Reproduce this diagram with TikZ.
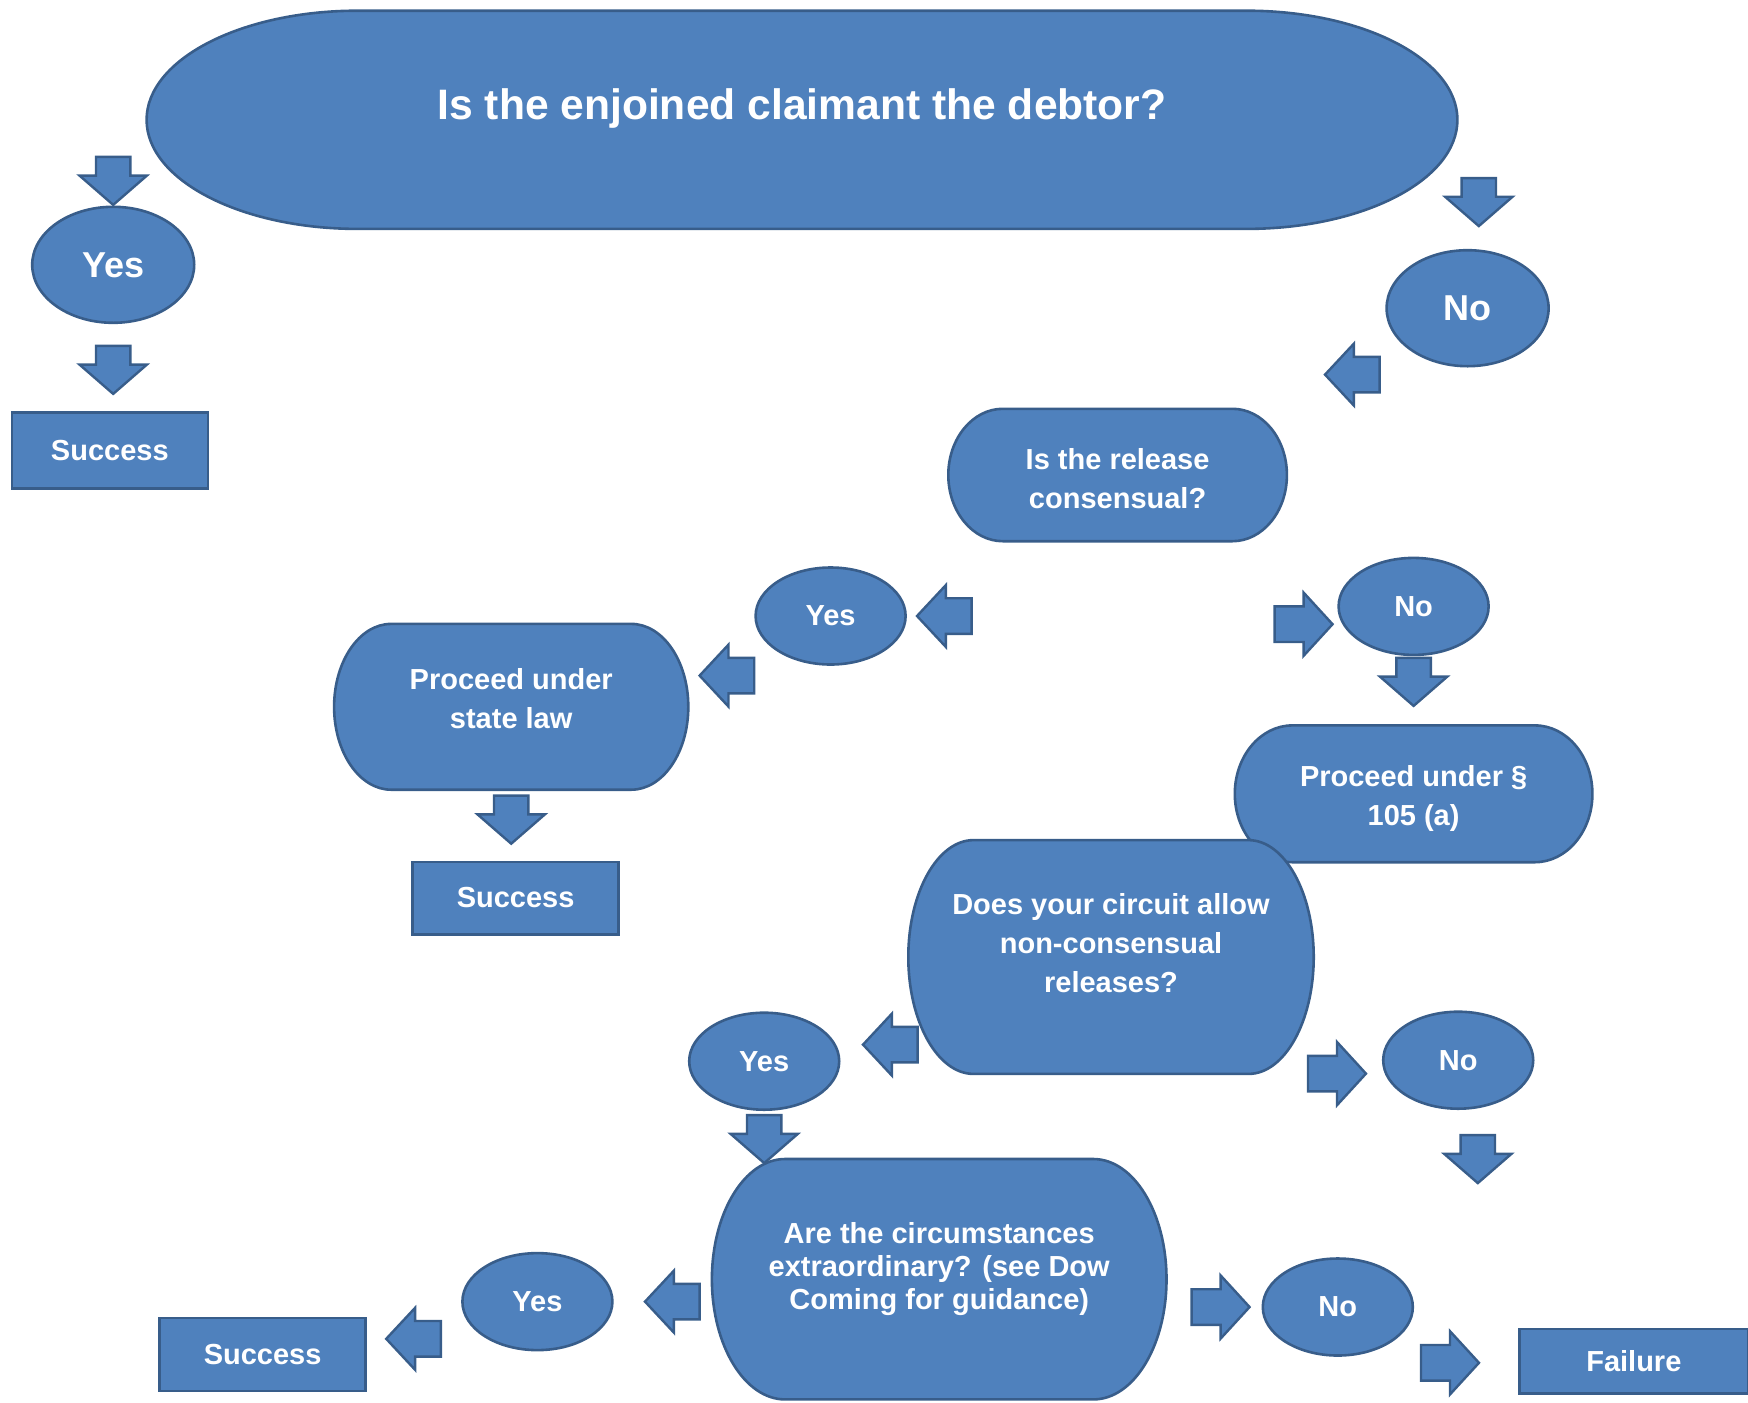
\documentclass[tikz,border=0pt]{standalone}
\usepackage{fontspec}
\setmainfont{Liberation Sans}
\usetikzlibrary{positioning, shapes.geometric, shapes.arrows, calc, backgrounds}

\definecolor{boxblue}{RGB}{79,129,189}
\definecolor{edgeblue}{RGB}{56,93,138}

% terminator outline round a node; #2 = how far it sits below the text
\newcommand\termshape[2]{%
  \path[draw=edgeblue, fill=boxblue, line width=1.3pt]
    let \p1=(#1.south west), \p2=(#1.north east),
        \n1={0.161*(\x2-\x1)}, \n2={0.5*(\y2-\y1)} in
    (\x1+\n1,\y1-#2) -- (\x2-\n1,\y1-#2)
    arc[start angle=-90, end angle=90, x radius={(\n1)*1pt}, y radius={(\n2)*1pt}]
    -- (\x1+\n1,\y2-#2)
    arc[start angle=90, end angle=270, x radius={(\n1)*1pt}, y radius={(\n2)*1pt}]
    -- cycle;}

\begin{document}
\begin{tikzpicture}[on grid, every node/.style={align=center, text=white, font=\fontsize{14.5}{19.5}\selectfont\bfseries},
    term/.style={inner sep=0pt},
    answer/.style={ellipse, draw=edgeblue, fill=boxblue, line width=1.3pt, inner sep=0pt, minimum width=75pt, minimum height=48.5pt},
    bigans/.style={minimum width=81pt, minimum height=58pt, font=\fontsize{18}{22}\selectfont\bfseries},
    outcome/.style={rectangle, draw=edgeblue, fill=boxblue, line width=1.3pt, minimum width=103pt, minimum height=36.5pt},
    fat/.style={single arrow, draw=edgeblue, fill=boxblue, line width=1.2pt, single arrow head indent=0pt, inner xsep=0pt},
    fatdown/.style={fat, rotate=270, inner ysep=8pt, single arrow head extend=8.25pt, single arrow tip angle=98, minimum height=24pt},
    fatleft/.style={fat, rotate=180, inner ysep=8.3pt, single arrow head extend=6.6pt, single arrow tip angle=94, minimum height=27.3pt},
    fatright/.style={fat, inner ysep=8.3pt, single arrow head extend=6.9pt, single arrow tip angle=95, minimum height=29pt}]
  \useasboundingbox (0,0) rectangle (874pt,-701.2pt);

  % Nodes
  \node (debtor) [term, minimum width=655pt, minimum height=108.7pt, font=\fontsize{21.3}{25}\selectfont\bfseries] at (401pt,-54pt) {Is the enjoined claimant the debtor?};
  \node (yes1) [answer, bigans, below left=78.4pt and 344.4pt of debtor] {Yes};
  \node (d1) [fatdown, above=45.7pt of yes1] {};
  \node (d2) [fatdown, below=48.8pt of yes1] {};
  \node (win1) [outcome, minimum width=98pt, minimum height=38pt, below left=44pt and 1.7pt of d2] {Success};

  \node (no1) [answer, bigans, below right=100.1pt and 332.8pt of debtor] {No};
  \node (d3) [fatdown, above right=56.8pt and 5.6pt of no1] {};
  \node (l1) [fatleft, below left=33.2pt and 53.5pt of no1] {};
  \node (consent) [term, minimum width=168.9pt, minimum height=65.8pt, below left=85.1pt and 175pt of no1] {Is the release\\consensual?};

  \node (yes2) [answer, below left=68.8pt and 143.5pt of consent] {Yes};
  \node (l2) [fatleft, right=61pt of yes2] {};
  \node (statelaw) [term, minimum width=176.7pt, minimum height=82.5pt, below left=41.5pt and 159.7pt of yes2] {Proceed under\\state law};
  \node (l3) [fatleft, above right=11.7pt and 112pt of statelaw] {};
  \node (d5) [fatdown, below=56.6pt of statelaw] {};
  \node (win2) [outcome, minimum height=36.2pt, below right=42.9pt and 2.2pt of d5] {Success};

  \node (no2) [answer, below right=64pt and 148pt of consent] {No};
  \node (r1) [fatright, below left=8.9pt and 59.1pt of no2] {};
  \node (d4) [fatdown, below=34pt of no2] {};
  \node (sec105) [term, minimum width=178.4pt, minimum height=68pt, below=96.2pt of no2] {Proceed under §\\105 (a)};

  \node (circuit) [term, minimum width=202.3pt, minimum height=116.5pt, below left=72.1pt and 151.3pt of sec105] {Does your circuit allow\\non-consensual\\releases?};
  \node (l4) [fatleft, below left=50.8pt and 106.2pt of circuit] {};
  \node (yes3) [answer, below left=59.1pt and 173.4pt of circuit] {Yes};
  \node (r2) [fatright, below right=65.3pt and 108.9pt of circuit] {};
  \node (no3) [answer, below right=58.6pt and 173.6pt of circuit] {No};
  \node (d6) [fatdown, below right=45.7pt and 9.8pt of no3] {};
  \node (d7) [fatdown, below=35.2pt of yes3] {};

  \node (extra) [term, minimum width=226.9pt, minimum height=119.8pt, font=\fontsize{14.5}{16.5}\selectfont\bfseries, below right=104pt and 87.5pt of yes3] {Are the circumstances\\extraordinary? (see Dow\\Coming for guidance)};
  \node (l5) [fatleft, below left=16.2pt and 129.3pt of extra] {};
  \node (yes4) [answer, below left=16.2pt and 200.9pt of extra] {Yes};
  \node (l6) [fatleft, below left=18.6pt and 57.8pt of yes4] {};
  \node (win3) [outcome, below left=26.4pt and 137.4pt of yes4] {Success};
  \node (r3) [fatright, below right=18.9pt and 136.6pt of extra] {};
  \node (no4) [answer, below right=18.9pt and 199.3pt of extra] {No};
  \node (r4) [fatright, below right=27.9pt and 52pt of no4] {};
  \node (fail) [outcome, minimum width=114.3pt, minimum height=32.3pt, below right=27.1pt and 148pt of no4] {Failure};

  % Shapes behind the question texts
  \begin{scope}[on background layer]
    \termshape{debtor}{5.9pt}
    \termshape{consent}{-1.7pt}
    \termshape{statelaw}{3.9pt}
    \termshape{sec105}{-2.5pt}
    \termshape{circuit}{7pt}
    \termshape{extra}{5pt}
  \end{scope}
\end{tikzpicture}
\end{document}
